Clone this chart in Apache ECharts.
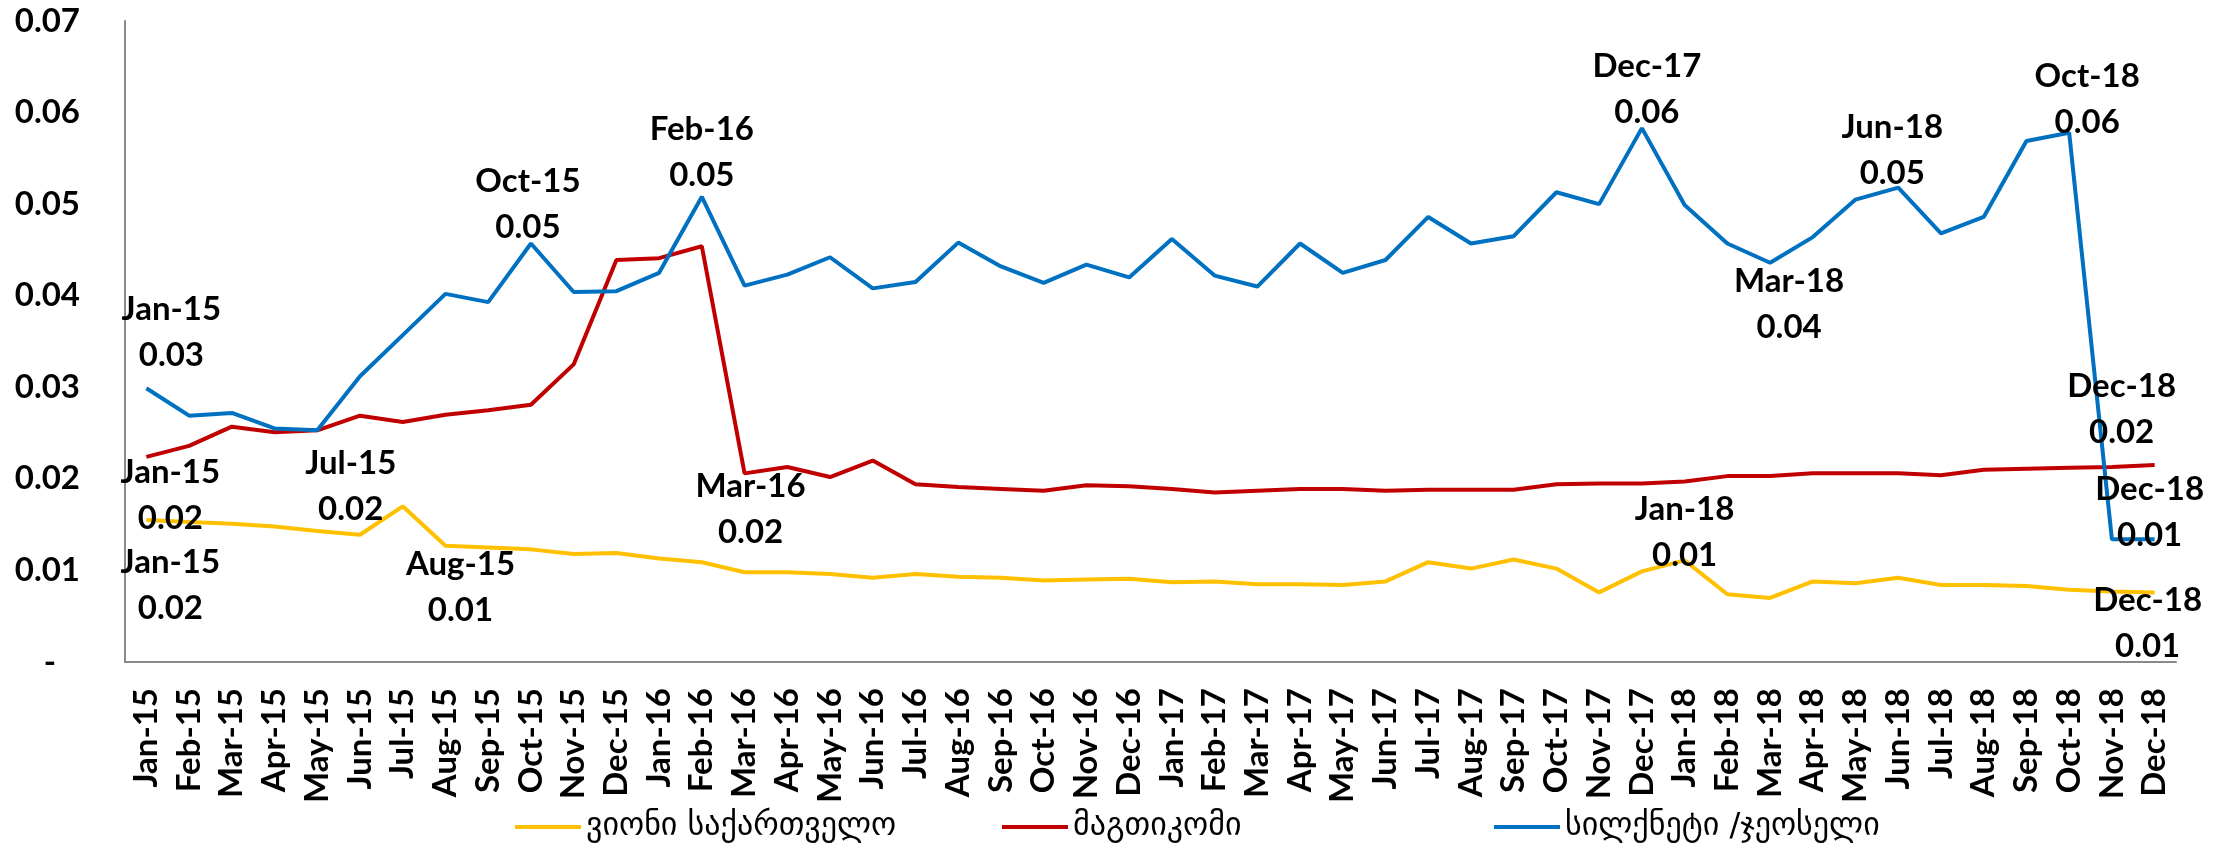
<!DOCTYPE html>
<html>
<head>
<meta charset="utf-8">
<style>
  html, body { margin: 0; padding: 0; background: #fff; }
  #chart { width: 2234px; height: 855px; }
</style>
<script src="https://cdn.jsdelivr.net/npm/echarts@6/dist/echarts.min.js"></script>
</head>
<body>
<div id="chart"></div>
<script>
const months = [
  'Jan-15', 'Feb-15', 'Mar-15', 'Apr-15', 'May-15', 'Jun-15', 'Jul-15', 'Aug-15', 'Sep-15', 'Oct-15', 'Nov-15', 'Dec-15',
  'Jan-16', 'Feb-16', 'Mar-16', 'Apr-16', 'May-16', 'Jun-16', 'Jul-16', 'Aug-16', 'Sep-16', 'Oct-16', 'Nov-16', 'Dec-16',
  'Jan-17', 'Feb-17', 'Mar-17', 'Apr-17', 'May-17', 'Jun-17', 'Jul-17', 'Aug-17', 'Sep-17', 'Oct-17', 'Nov-17', 'Dec-17',
  'Jan-18', 'Feb-18', 'Mar-18', 'Apr-18', 'May-18', 'Jun-18', 'Jul-18', 'Aug-18', 'Sep-18', 'Oct-18', 'Nov-18', 'Dec-18'
]

const vivaValues = [
  0.0155, 0.0153, 0.0151, 0.0148, 0.0143, 0.0139, 0.0170, 0.0127, 0.0125, 0.0123, 0.0118, 0.0119,
  0.0113, 0.0109, 0.0098, 0.0098, 0.0096, 0.0092, 0.0096, 0.0093, 0.0092, 0.0089, 0.0090, 0.0091,
  0.0087, 0.0088, 0.0085, 0.0085, 0.0084, 0.0088, 0.0109, 0.0102, 0.0112, 0.0102, 0.0076, 0.0099,
  0.0111, 0.0074, 0.0070, 0.0088, 0.0086, 0.0092, 0.0084, 0.0084, 0.0083, 0.0079, 0.0077, 0.0076
]

const magtiValues = [
  0.0224, 0.0236, 0.0257, 0.0251, 0.0253, 0.0269, 0.0262, 0.0270, 0.0275, 0.0281, 0.0325, 0.0439,
  0.0441, 0.0454, 0.0206, 0.0213, 0.0202, 0.0220, 0.0194, 0.0191, 0.0189, 0.0187, 0.0193, 0.0192,
  0.0189, 0.0185, 0.0187, 0.0189, 0.0189, 0.0187, 0.0188, 0.0188, 0.0188, 0.0194, 0.0195, 0.0195,
  0.0197, 0.0203, 0.0203, 0.0206, 0.0206, 0.0206, 0.0204, 0.0210, 0.0211, 0.0212, 0.0213, 0.0215
]

const silknetValues = [
  0.0299, 0.0269, 0.0272, 0.0255, 0.0253, 0.0312, 0.0357, 0.0402, 0.0393, 0.0457, 0.0404, 0.0405,
  0.0425, 0.0508, 0.0411, 0.0423, 0.0442, 0.0408, 0.0415, 0.0458, 0.0432, 0.0414, 0.0434, 0.0420,
  0.0462, 0.0422, 0.0410, 0.0457, 0.0425, 0.0439, 0.0486, 0.0457, 0.0465, 0.0513, 0.0500, 0.0583,
  0.0499, 0.0457, 0.0436, 0.0464, 0.0505, 0.0518, 0.0468, 0.0486, 0.0569, 0.0578, 0.0134, 0.0134
]

const seriesNames = ['ვიონი საქართველო', 'მაგთიკომი', 'სილქნეტი /ჯეოსელი']
const yTicks = [0, 0.01, 0.02, 0.03, 0.04, 0.05, 0.06, 0.07]

// labelled points: index -> [position, dx, dy]
const vivaLabels = { 0: ['bottom', 24, 19], 6: ['top', -52, 26], 7: ['bottom', 15, -4], 36: ['top', 0, 18], 47: ['bottom', -7, -15] }
const magtiLabels = { 0: ['bottom', 24, -8], 14: ['bottom', 6, -10], 47: ['top', -33, -10] }
const silknetLabels = { 0: ['top', 25, -10], 9: ['top', -3, 7], 13: ['top', 0, 2], 35: ['top', 5, 7], 38: ['bottom', 19, -4], 41: ['top', -6, 9], 45: ['top', 18, 13], 47: ['top', -5, 19] }

const colors = ['#FFC000', '#C00000', '#0070C0']
const labelFont = { fontFamily: 'Lato', fontWeight: 'bold', fontSize: 33, color: '#000' }

function buildData(values, spots) {
  return values.map((v, i) => {
    const s = spots[i]
    if (!s) return v
    return {
      value: v,
      label: {
        show: true, position: s[0], distance: 0, offset: [s[1], s[2]],
        ...labelFont, lineHeight: 46,
        formatter: p => p.name + '\n' + p.value.toFixed(2),
      },
    }
  })
}

function makeSeries(name, values, spots, color) {
  return {
    name, type: 'line', data: buildData(values, spots),
    symbol: 'circle', symbolSize: 0, showAllSymbol: true,
    lineStyle: { color, width: 4 }, itemStyle: { color },
    emphasis: { disabled: true },
    label: { show: false },
    z: 2,
  }
}

function legendAt(name, left) {
  return {
    data: [name], left, top: 806, icon: 'rect', itemWidth: 66, itemHeight: 4, itemGap: 0,
    textStyle: { fontFamily: 'DejaVu Sans', fontSize: 32, color: '#000' },
  }
}

const chart = echarts.init(document.getElementById('chart'))
chart.setOption({
  animation: false,
  color: colors,
  grid: { left: 125, right: 58, top: 21, bottom: 193, containLabel: false },
  legend: [legendAt(seriesNames[0], 510), legendAt(seriesNames[1], 997), legendAt(seriesNames[2], 1489)],
  xAxis: {
    type: 'category', data: months, boundaryGap: true,
    axisLine: { lineStyle: { color: '#898989', width: 2 } },
    axisTick: { show: false },
    axisLabel: { interval: 0, rotate: 90, margin: 26, ...labelFont },
    splitLine: { show: false },
  },
  yAxis: {
    type: 'value', min: yTicks[0], max: yTicks[yTicks.length - 1], interval: 0.01,
    axisLine: { show: true, lineStyle: { color: '#898989', width: 2 } },
    axisTick: { show: false },
    splitLine: { show: false },
    axisLabel: { margin: 45, ...labelFont, formatter: v => v === 0 ? '-   ' : v.toFixed(2) },
  },
  series: [
    makeSeries(seriesNames[0], vivaValues, vivaLabels, colors[0]),
    makeSeries(seriesNames[1], magtiValues, magtiLabels, colors[1]),
    makeSeries(seriesNames[2], silknetValues, silknetLabels, colors[2]),
  ],
})
</script>
</body>
</html>
